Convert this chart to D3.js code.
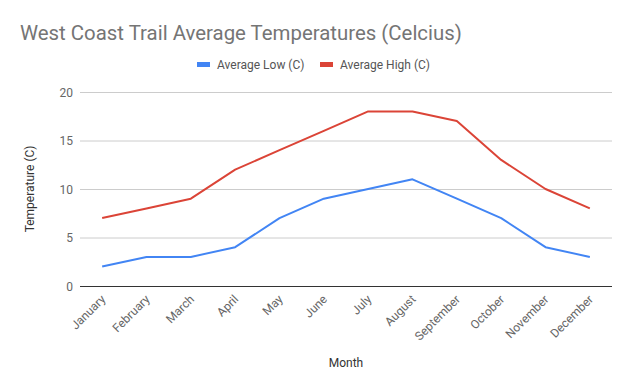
<!DOCTYPE html>
<html>
<head>
<meta charset="utf-8">
<script src="https://cdn.jsdelivr.net/npm/d3@7"></script>
<style>
body { margin: 0; background: #fff; }
text { font-family: Roboto, "Noto Sans", sans-serif; }
</style>
</head>
<body>
<svg width="632" height="391"></svg>
<script>
// Data
var months = ["January", "February", "March", "April", "May", "June", "July",
	"August", "September", "October", "November", "December"];
var avgLow = [2, 3, 3, 4, 7, 9, 10, 11, 9, 7, 4, 3];
var avgHigh = [7, 8, 9, 12, 14, 16, 18, 18, 17, 13, 10, 8];
var yTicks = [0, 5, 10, 15, 20];

var series = [
	{ name: "Average Low (C)", values: avgLow, color: "#4285f4" },
	{ name: "Average High (C)", values: avgHigh, color: "#db4437" }
];

var svg = d3.select("svg");
var plotLeft = 80, plotRight = 612, plotTop = 92, plotBottom = 286;

var x = d3.scalePoint().domain(months).range([plotLeft, plotRight]).padding(0.5);
var y = d3.scaleLinear().domain([0, 20]).range([plotBottom, plotTop]);

// Title
svg.append("text")
	.attr("x", 20).attr("y", 40)
	.attr("fill", "#757575")
	.style("font-size", "20.4px")
	.text("West Coast Trail Average Temperatures (Celcius)");

// Gridlines
svg.append("g")
	.selectAll("line")
	.data(yTicks.filter((d) => d > 0))
	.enter().append("line")
	.attr("x1", plotLeft).attr("x2", plotRight)
	.attr("y1", (d) => y(d) + 0.5).attr("y2", (d) => y(d) + 0.5)
	.attr("stroke", "#cccccc").attr("stroke-width", 1);

// Y axis labels
svg.append("g")
	.selectAll("text")
	.data(yTicks)
	.enter().append("text")
	.attr("x", plotLeft - 7).attr("y", (d) => y(d) + 4.5)
	.attr("text-anchor", "end")
	.attr("fill", "#666")
	.style("font-size", "12px")
	.text((d) => d);

// X labels rotated
svg.append("g")
	.selectAll("text")
	.data(months)
	.enter().append("text")
	.attr("transform", (d) => "translate(" + (x(d) + 4) + "," + (plotBottom + 14) + ") rotate(-45)")
	.attr("text-anchor", "end")
	.attr("fill", "#666")
	.style("font-size", "12px")
	.text((d) => d);

// Axis titles
svg.append("text")
	.attr("transform", "translate(34," + ((plotTop + plotBottom) / 2) + ") rotate(-90)")
	.attr("text-anchor", "middle")
	.attr("fill", "#333")
	.style("font-size", "12px")
	.text("Temperature (C)");

svg.append("text")
	.attr("x", (plotLeft + plotRight) / 2).attr("y", 367)
	.attr("text-anchor", "middle")
	.attr("fill", "#333")
	.style("font-size", "12px")
	.text("Month");

// Lines
var line = d3.line()
	.x((d, i) => x(months[i]))
	.y((d) => y(d));

svg.append("g")
	.selectAll("path")
	.data(series)
	.enter().append("path")
	.attr("d", (d) => line(d.values))
	.attr("fill", "none")
	.attr("stroke", (d) => d.color)
	.attr("stroke-width", 2)
	.attr("stroke-linejoin", "round");

// Baseline
svg.append("line")
	.attr("x1", plotLeft).attr("x2", plotRight)
	.attr("y1", y(0) + 0.5).attr("y2", y(0) + 0.5)
	.attr("stroke", "#333").attr("stroke-width", 1);

// Legend
var legendX = [197, 320];
var legend = svg.append("g")
	.selectAll("g")
	.data(series)
	.enter().append("g")
	.attr("transform", (d, i) => "translate(" + legendX[i] + ",65)");

legend.append("rect")
	.attr("x", 0).attr("y", -3)
	.attr("width", 13).attr("height", 5)
	.attr("fill", (d) => d.color);

legend.append("text")
	.attr("x", 20).attr("y", 4)
	.attr("fill", "#555")
	.style("font-size", "12px")
	.text((d) => d.name);
</script>
</body>
</html>
